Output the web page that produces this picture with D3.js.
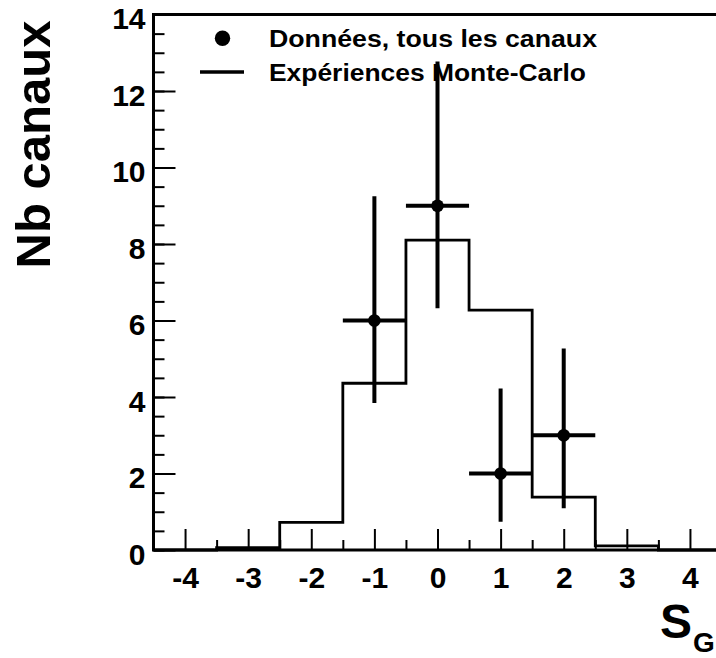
<!DOCTYPE html>
<html>
<head>
<meta charset="utf-8">
<script src="https://cdn.jsdelivr.net/npm/d3@7"></script>
<style>
  html, body { margin: 0; padding: 0; background: #fff; overflow: hidden; }
  svg { display: block; font-family: "Liberation Sans", Arial, Helvetica, sans-serif; font-weight: bold; }
</style>
</head>
<body>
<svg id="chart" width="716" height="658"></svg>
<script>
// ---- data ----
const binCenters = [-4, -3, -2, -1, 0, 1, 2, 3, 4];
const mcCounts   = [0, 0.06, 0.72, 4.36, 8.10, 6.27, 1.38, 0.11, 0];
const binWidth = 1;

const dataX    = [-1, 0, 1, 2];
const dataY    = [6, 9, 2, 3];
const errLow   = [3.84, 6.32, 0.74, 1.09];
const errHigh  = [9.25, 12.77, 4.22, 5.27];

const xMajorTicks = [-4, -3, -2, -1, 0, 1, 2, 3, 4];
const xMinorTicks = [-3.5, -2.5, -1.5, -0.5, 0.5, 1.5, 2.5, 3.5];
const yMajorTicks = [0, 2, 4, 6, 8, 10, 12, 14];
const yMinorTicks = d3.range(0, 14.01, 0.5);

const legendLabels = ["Données, tous les canaux", "Expériences Monte-Carlo"];
const yTitle = "Nb canaux";
const xTitleMain = "S";
const xTitleSub = "G";

// ---- scales ----
const svg = d3.select("#chart");
const x = d3.scaleLinear().domain([-4.5, 4.5]).range([153.5, 721.5]);
const y = d3.scaleLinear().domain([0, 14]).range([550, 14.5]);

// ---- MC histogram (step outline) ----
const histPts = [[x.domain()[0], 0]];
binCenters.forEach((c, i) => {
  histPts.push([c - binWidth / 2, mcCounts[i]]);
  histPts.push([c + binWidth / 2, mcCounts[i]]);
});
histPts.push([x.domain()[1], 0]);
svg.append("path")
  .attr("d", d3.line().x(d => x(d[0])).y(d => y(d[1]))(histPts))
  .attr("fill", "none").attr("stroke", "#000").attr("stroke-width", 2.8)
  .attr("stroke-linejoin", "miter");

// ---- data points with error bars ----
const pts = svg.append("g");
dataX.forEach((xv, i) => {
  pts.append("line")
    .attr("x1", x(xv)).attr("x2", x(xv))
    .attr("y1", y(errHigh[i])).attr("y2", y(errLow[i]))
    .attr("stroke", "#000").attr("stroke-width", 4);
  pts.append("line")
    .attr("x1", x(xv - binWidth / 2)).attr("x2", x(xv + binWidth / 2))
    .attr("y1", y(dataY[i])).attr("y2", y(dataY[i]))
    .attr("stroke", "#000").attr("stroke-width", 4);
  pts.append("circle")
    .attr("cx", x(xv)).attr("cy", y(dataY[i])).attr("r", 6.3)
    .attr("fill", "#000");
});

// ---- axes ----
const fontTick = 30;
const xMinor = svg.append("g").attr("transform", `translate(0,${y(0)})`)
  .call(d3.axisBottom(x).tickValues(xMinorTicks).tickSize(-10).tickFormat(""));
const xMajor = svg.append("g").attr("transform", `translate(0,${y(0)})`)
  .call(d3.axisBottom(x).tickValues(xMajorTicks).tickSize(-21).tickPadding(17).tickFormat(d3.format("d")));
const yMinor = svg.append("g").attr("transform", `translate(${x(-4.5)},0)`)
  .call(d3.axisLeft(y).tickValues(yMinorTicks).tickSize(-11).tickFormat(""));
const yMajor = svg.append("g").attr("transform", `translate(${x(-4.5)},0)`)
  .call(d3.axisLeft(y).tickValues(yMajorTicks).tickSize(-22).tickPadding(8).tickFormat(d3.format("d")));

[xMinor, xMajor, yMinor, yMajor].forEach(g => {
  g.select(".domain").remove();
  g.selectAll(".tick line").attr("stroke", "#000").attr("stroke-width", 2);
  g.selectAll("text")
    .attr("fill", "#000")
    .style("font-family", '"Liberation Sans", Arial, sans-serif')
    .style("font-weight", "bold")
    .style("font-size", fontTick + "px");
});
xMajor.selectAll("text").text(d => d < 0 ? "-" + Math.abs(d) : d);
yMajor.selectAll("text").attr("dy", "0.48em");

// ---- frame ----
svg.append("rect")
  .attr("x", x(-4.5)).attr("y", y(14))
  .attr("width", x(4.5) - x(-4.5)).attr("height", y(0) - y(14))
  .attr("fill", "none").attr("stroke", "#000").attr("stroke-width", 3);

// ---- legend ----
const leg = svg.append("g");
leg.append("circle").attr("cx", 222.5).attr("cy", 38.3).attr("r", 7.7).attr("fill", "#000");
leg.append("line").attr("x1", 200).attr("x2", 244).attr("y1", 72).attr("y2", 72)
  .attr("stroke", "#000").attr("stroke-width", 3.5);
leg.append("text").attr("x", 269).attr("y", 46.7)
  .attr("textLength", 328).attr("lengthAdjust", "spacingAndGlyphs")
  .style("font-size", "23.5px").text(legendLabels[0]);
leg.append("text").attr("x", 269).attr("y", 81)
  .attr("textLength", 317).attr("lengthAdjust", "spacingAndGlyphs")
  .style("font-size", "23.5px").text(legendLabels[1]);

// ---- titles ----
svg.append("text")
  .attr("transform", "translate(50,144.5) rotate(-90)")
  .attr("text-anchor", "middle")
  .style("font-size", "49px")
  .text(yTitle);

const xt = svg.append("text").attr("x", 660).attr("y", 638).style("font-size", "48px");
xt.append("tspan").text(xTitleMain);
xt.append("tspan").attr("dx", 1).attr("dy", 14).style("font-size", "28px").text(xTitleSub);
</script>
</body>
</html>
